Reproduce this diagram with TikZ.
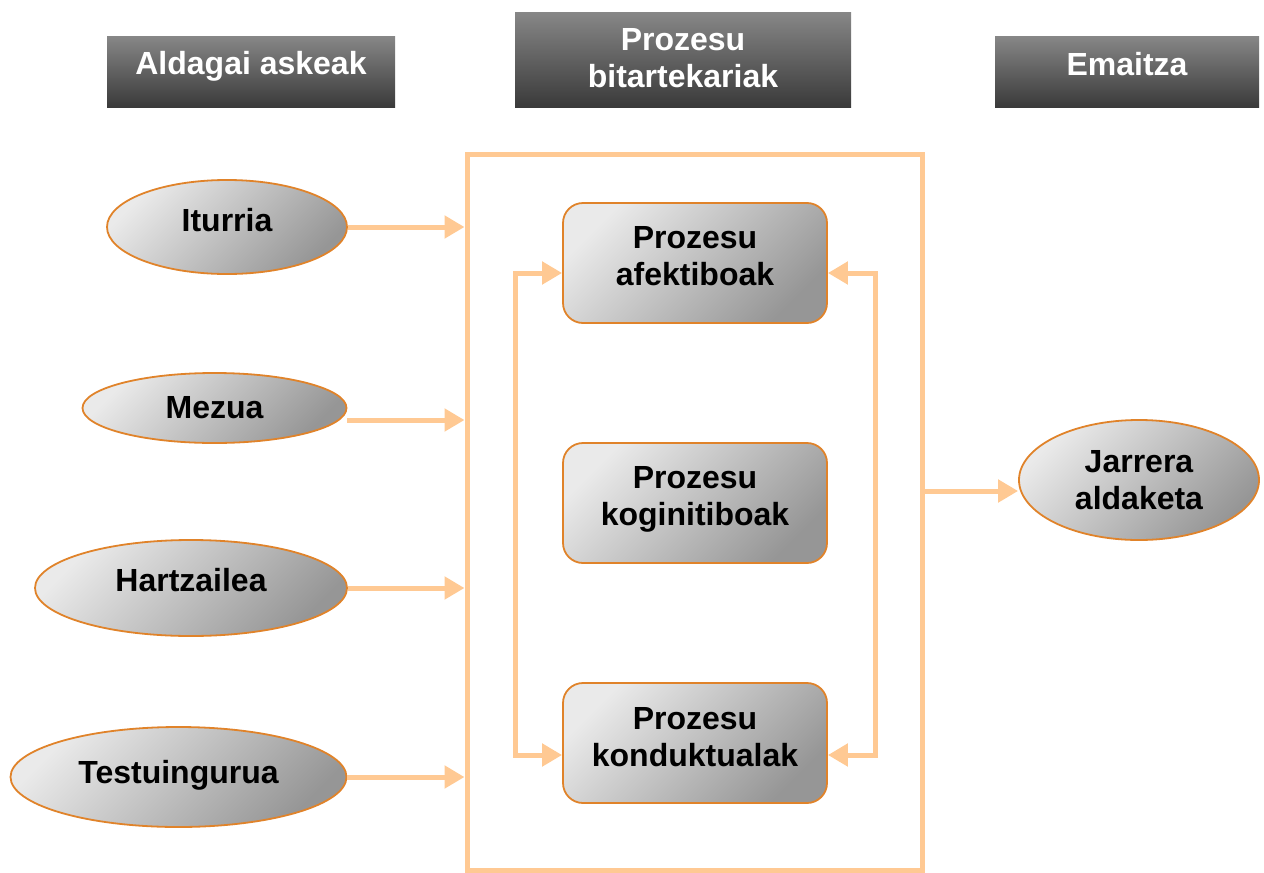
\documentclass[tikz,border=0pt]{standalone}
\usepackage{fontspec}
\setmainfont{Liberation Sans}
\usetikzlibrary{arrows.meta,calc,shapes.geometric}
\definecolor{arrc}{HTML}{FFC993}
\definecolor{bord}{HTML}{E0832A}
\definecolor{light}{HTML}{EAEAEA}
\definecolor{dark}{HTML}{969696}
\definecolor{htop}{HTML}{878787}
\definecolor{hbot}{HTML}{3A3A3A}
\tikzset{
  txt/.style={font=\fontsize{32}{37}\selectfont\bfseries, align=center, inner sep=0pt},
  oval/.style={ellipse, draw=bord, line width=1.8pt, top color=light, bottom color=dark, shading angle=45, inner sep=0pt},
  procbox/.style={rectangle, rounded corners=20pt, draw=bord, line width=1.8pt, top color=light, bottom color=dark, shading angle=45, minimum width=264pt, minimum height=120pt, inner sep=0pt},
  header/.style={rectangle, top color=htop, bottom color=hbot, inner sep=0pt},
  tl/.style 2 args={label={[txt,yshift=#1]center:#2}},
  wl/.style 2 args={label={[txt,text=white,yshift=#1]center:#2}},
  arr/.style={draw=arrc, line width=5pt, -{Triangle[length=20pt,width=22pt]}},
  arrboth/.style={draw=arrc, line width=5pt, {Triangle[length=20pt,width=22pt]}-{Triangle[length=20pt,width=22pt]}},
  frame/.style={draw=arrc, line width=5pt, inner sep=0pt}
}
\begin{document}
\begin{tikzpicture}[x=1pt,y=-1pt]
\useasboundingbox (0,0) rectangle (1264,873);
% headers
\node[header, minimum width=288pt, minimum height=71pt, wl={5pt}{Aldagai askeak}] (h1) at (251,71.5) {};
\node[header, minimum width=336pt, minimum height=95pt, wl={1pt}{Prozesu\\bitartekariak}] (h2) at (683,59.5) {};
\node[header, minimum width=264pt, minimum height=71pt, wl={7pt}{Emaitza}] (h3) at (1127,71.5) {};
% frame
\node[frame, minimum width=455pt, minimum height=716pt] (proc) at (694.5,512) {};
% ellipses
\node[oval, minimum width=240pt, minimum height=94pt, tl={7pt}{Iturria}] (itu) at (227,227) {};
\node[oval, minimum width=264pt, minimum height=70pt, tl={0pt}{Mezua}] (mez) at (214.5,408) {};
\node[oval, minimum width=312pt, minimum height=96pt, tl={8pt}{Hartzailea}] (har) at (191,588) {};
\node[oval, minimum width=336pt, minimum height=100pt, tl={2pt}{Testuingurua}] (tes) at (178.5,777) {};
\node[oval, minimum width=240pt, minimum height=120pt, tl={0pt}{Jarrera\\aldaketa}] (jar) at (1139,480) {};
% process boxes
\node[procbox, tl={7pt}{Prozesu\\afektiboak}] (afe) at (695,263) {};
\node[procbox, tl={4pt}{Prozesu\\koginitiboak}] (kog) at (695,503) {};
\node[procbox, tl={6pt}{Prozesu\\konduktualak}] (kon) at (695,743) {};
% input arrows
\draw[arr] (itu.east) -- (itu.east -| proc.west);
\coordinate (mz) at ($(mez.east)+(0,12)$);
\draw[arr] (mz) -- (mz -| proc.west);
\draw[arr] (har.east) -- (har.east -| proc.west);
\draw[arr] (tes.east) -- (tes.east -| proc.west);
% output arrow
\coordinate (po) at ($(proc.east)+(0,-21)$);
\draw[arr] (po) -- (po -| jar.west);
% feedback loops
\coordinate (al) at ($(afe.west)+(0,10)$);
\coordinate (kl) at ($(kon.west)+(0,12)$);
\coordinate (ar) at ($(afe.east)+(0,10)$);
\coordinate (kr) at ($(kon.east)+(0,12)$);
\draw[arrboth] (al) -- ++(-47,0) |- (kl);
\draw[arrboth] (ar) -- ++(48,0) |- (kr);
\end{tikzpicture}
\end{document}
